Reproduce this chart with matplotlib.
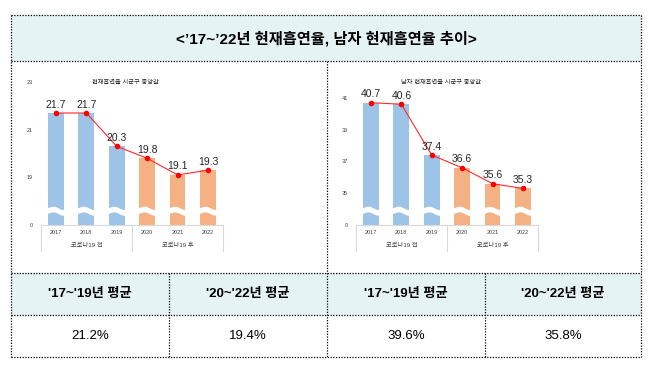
import numpy as np
import matplotlib.pyplot as plt
import matplotlib.transforms as mtransforms
from matplotlib.patches import Rectangle, Polygon

plt.rcParams['font.family'] = ['Liberation Sans', 'Noto Sans CJK KR']

# data
years = ['2017', '2018', '2019', '2020', '2021', '2022']
groups = ['코로나19 전', '코로나19 후']
total_rate = [21.7, 21.7, 20.3, 19.8, 19.1, 19.3]
male_rate = [40.7, 40.6, 37.4, 36.6, 35.6, 35.3]
total_ticks = [17, 19, 21, 23]
male_ticks = [33, 35, 37, 39, 41]
headers = ["'17~'19년 평균", "'20~'22년 평균", "'17~'19년 평균", "'20~'22년 평균"]
averages = ['21.2%', '19.4%', '39.6%', '35.8%']
title = '<’17~’22년 현재흡연율, 남자 현재흡연율 추이>'
chart_titles = ['현재흡연율 시군구 중앙값', '남자 현재흡연율 시군구 중앙값']

W, H = 649, 370
blue = '#9dc3e6'
orange = '#f4b183'
fill = '#e5f3f4'

fig = plt.figure(figsize=(W / 100, H / 100), dpi=100)

# table frame drawn in pixel coordinates
bg = fig.add_axes([0, 0, 1, 1], zorder=0)
bg.set_xlim(0, W)
bg.set_ylim(H, 0)
bg.axis('off')

x0, x1 = 11, 641
xm = 327
cols = [11, 169, 327, 485, 641]
y_top, y_title, y_head, y_val, y_bot = 15, 61, 273, 315, 357

bg.add_patch(Rectangle((x0, y_top), x1 - x0, y_title - y_top, color=fill, lw=0))
bg.add_patch(Rectangle((x0, y_head), x1 - x0, y_val - y_head, color=fill, lw=0))

dot = dict(color='black', lw=0.9, linestyle=(0, (1, 1.2)))
for y in [y_top, y_title, y_head, y_val, y_bot]:
    bg.plot([x0, x1], [y, y], **dot)
for x in [x0, x1]:
    bg.plot([x, x], [y_top, y_bot], **dot)
bg.plot([xm, xm], [y_title, y_bot], **dot)
for x in [cols[1], cols[3]]:
    bg.plot([x, x], [y_head, y_bot], **dot)

bg.text((x0 + x1) / 2, 39, title, ha='center', va='center', fontsize=11,
        fontweight='bold', color='black')
for i in range(4):
    cx = (cols[i] + cols[i + 1]) / 2
    bg.text(cx, 294, headers[i], ha='center', va='center', fontsize=9.5,
            fontweight='bold', color='black')
    bg.text(cx, 336, averages[i], ha='center', va='center', fontsize=9.5,
            color='black')


def draw_chart(left_px, vals, ticks, top_val, ctitle, title_px):
    ax = fig.add_axes([left_px / W, 1 - 225 / H, 182.5 / W, 143 / H], zorder=2)
    ax.set_facecolor('none')
    base = ticks[0]
    x = np.arange(len(vals))
    colors = [blue] * 3 + [orange] * 3
    ax.bar(x, [v - base for v in vals], bottom=base, width=0.52, color=colors,
           zorder=1)
    ax.set_xlim(-0.5, len(vals) - 0.5)
    ax.set_ylim(base, top_val)

    # axis break drawn as a white wave over each bar
    tr = mtransforms.blended_transform_factory(ax.transData, ax.transAxes)
    t = np.linspace(0, 1, 40)
    for i in x:
        xs = i - 0.3 + t * 0.6
        yc = 0.105 + 0.009 * np.sin(np.pi * (2 * t - 0.3)) - 0.01 * t
        pts = np.column_stack([np.r_[xs, xs[::-1]],
                               np.r_[yc + 0.018, (yc - 0.022)[::-1]]])
        ax.add_patch(Polygon(pts, closed=True, color='white', lw=0,
                             transform=tr, zorder=2))

    ax.plot(x, vals, color='#ff2a2a', lw=0.8, marker='o', markersize=3,
            markerfacecolor='red', markeredgecolor='red', zorder=3)
    for i, v in zip(x, vals):
        ax.annotate(f'{v:.1f}', (i, v), xytext=(0, 2.5), textcoords='offset points',
                    ha='center', va='bottom', fontsize=7.5, color='#262626',
                    zorder=4)

    ax.set_yticks(ticks)
    ax.set_yticklabels(['0'] + [str(tk) for tk in ticks[1:]])
    ax.set_xticks(x)
    ax.set_xticklabels(years)
    ax.tick_params(axis='y', length=0, labelsize=4, pad=5.5, colors='#404040')
    ax.tick_params(axis='x', length=0, labelsize=4, pad=3.5, colors='#404040')
    for s in ['top', 'right', 'left']:
        ax.spines[s].set_visible(False)
    ax.spines['bottom'].set_color('#d9d9d9')
    ax.spines['bottom'].set_linewidth(0.8)

    for xs in [-0.5, 2.5, 5.5]:
        ax.plot([xs, xs], [0, -0.18], transform=tr, clip_on=False,
                color='#d9d9d9', lw=0.8)
    ax.text(1, -0.145, groups[0], transform=tr, ha='center', va='center',
            fontsize=4.5, color='#404040')
    ax.text(4, -0.145, groups[1], transform=tr, ha='center', va='center',
            fontsize=4.5, color='#404040')

    fig.text(title_px / W, 1 - 82 / H, ctitle, ha='center', va='center',
             fontsize=4.5, color='#262626')


draw_chart(40.7, total_rate, total_ticks, 23, chart_titles[0], 125)
draw_chart(355.7, male_rate, male_ticks, 42, chart_titles[1], 441)

plt.savefig('out.png', dpi=100)
